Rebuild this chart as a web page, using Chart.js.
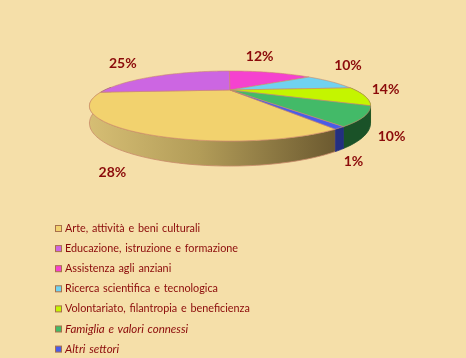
<!DOCTYPE html>
<html><head><meta charset="utf-8">
<style>html,body{margin:0;padding:0;background:#F5DFA9;overflow:hidden}canvas{display:block}</style>
<script src="https://cdn.jsdelivr.net/npm/chart.js@4"></script></head>
<body><div style="width:466px;height:358px"><canvas id="c"></canvas></div>
<script>
const categories = ['Arte, attività e beni culturali','Educazione, istruzione e formazione','Assistenza agli anziani','Ricerca scientifica e tecnologica','Volontariato, filantropia e beneficienza','Famiglia e valori connessi','Altri settori'];
// Printed percentages, as the reference labels them.
const percentLabels = ['28%','25%','12%','10%','14%','10%','1%'];
// Slice shares as measured from the drawn wedges (the reference's wedges do not follow its printed percentages).
const sliceShares = [32.4,26.1,15.0,8.9,8.7,8.0,1.0];
const topColors = ['#F2D26E','#CC66E2','#F542CF','#70D2F0','#C4F500','#43BA68','#4A5CE8'];
const wallColors = ['#B09A55','#7A3A88','#8A2070','#3A7A90','#6E8A00','#1A5228','#232F80'];
const italicFlags = [false,false,false,false,false,true,true];
const labelOffsets = [[-20.6,41],[-37,-12],[-10,-15.5],[17,-16],[21,-6],[27,20],[14,34]];
const textColor = '#8B0A0A', edgeColor = '#C98A6A';
const tilt = {rx:125/90, ry:27.7/90, k:0.457, depth:13.6/90};

function project(el, a, drop){
  const u=Math.cos(a), v=Math.sin(a), w=1-tilt.k*v, R=el.outerRadius;
  return {x:el.x+tilt.rx*R*u/w, y:el.y+tilt.ry*R*v/w+(drop?tilt.depth*R/w:0), v};
}
function samples(el){
  const p=el.getProps(['startAngle','endAngle','x','y','outerRadius']),out=[],n=Math.max(4,Math.ceil((p.endAngle-p.startAngle)*40));
  for(let i=0;i<=n;i++) out.push(p.startAngle+(p.endAngle-p.startAngle)*i/n);
  return {p,angles:out};
}
const pie3d = {
  id:'pie3d',
  beforeDatasetDraw(chart,args){
    const ctx=chart.ctx, arcs=args.meta.data;
    arcs.forEach((el,i)=>{
      const {p,angles}=samples(el), vis=angles.filter(a=>Math.sin(a)>-0.1);
      if(vis.length<2) return;
      const t=vis.map(a=>project(p,a,false)), b=vis.map(a=>project(p,a,true)).reverse();
      ctx.beginPath();
      t.concat(b).forEach((q,j)=>j?ctx.lineTo(q.x,q.y):ctx.moveTo(q.x,q.y));
      ctx.closePath();
      if(i===0){
        const g=ctx.createLinearGradient(89,0,335,0);
        g.addColorStop(0,'#D6BE74');g.addColorStop(0.45,'#B29C58');g.addColorStop(1,'#6C5A30');
        ctx.fillStyle=g;
      } else ctx.fillStyle=wallColors[i];
      ctx.fill();
      ctx.strokeStyle=i===0?edgeColor:ctx.fillStyle;ctx.lineWidth=0.8;ctx.stroke();
    });
    arcs.forEach((el,i)=>{
      const {p,angles}=samples(el);
      ctx.beginPath();ctx.moveTo(p.x,p.y);
      angles.forEach(a=>{const q=project(p,a,false);ctx.lineTo(q.x,q.y);});
      ctx.closePath();ctx.fillStyle=topColors[i];ctx.fill();
      ctx.strokeStyle=edgeColor;ctx.lineWidth=0.6;ctx.stroke();
    });
    return false;
  },
  afterDatasetsDraw(chart){
    const ctx=chart.ctx, arcs=chart.getDatasetMeta(0).data;
    ctx.save();ctx.textBaseline='middle';ctx.textAlign='center';
    ctx.font='bold 14px Lato';ctx.fillStyle=textColor;
    arcs.forEach((el,i)=>{
      const p=el.getProps(['startAngle','endAngle','x','y','outerRadius']);
      const q=project(p,(p.startAngle+p.endAngle)/2,false);
      ctx.fillText(percentLabels[i],q.x+labelOffsets[i][0],q.y+labelOffsets[i][1]);
    });
    ctx.textAlign='left';
    categories.forEach((c,i)=>{
      const y=228.5+i*20.1;
      ctx.fillStyle=topColors[i];ctx.fillRect(55.5,y-3,6,6);
      ctx.strokeStyle='#A8704A';ctx.lineWidth=1;ctx.strokeRect(55.5,y-3,6,6);
      ctx.fillStyle=textColor;ctx.font=(italicFlags[i]?'italic 11.5px Lato':'10.8px Lato');
      ctx.wordSpacing='1px';
      ctx.fillText(c,65,y);
    });
    ctx.restore();
  }
};
new Chart(document.getElementById('c'),{
  type:'pie',
  data:{labels:categories,datasets:[{data:sliceShares,backgroundColor:topColors,borderWidth:0}]},
  options:{responsive:true,maintainAspectRatio:false,animation:false,rotation:149.2,
    layout:{padding:{right:6,bottom:178}},
    plugins:{legend:{display:false},tooltip:{enabled:false}}},
  plugins:[pie3d]
});
</script></body></html>
